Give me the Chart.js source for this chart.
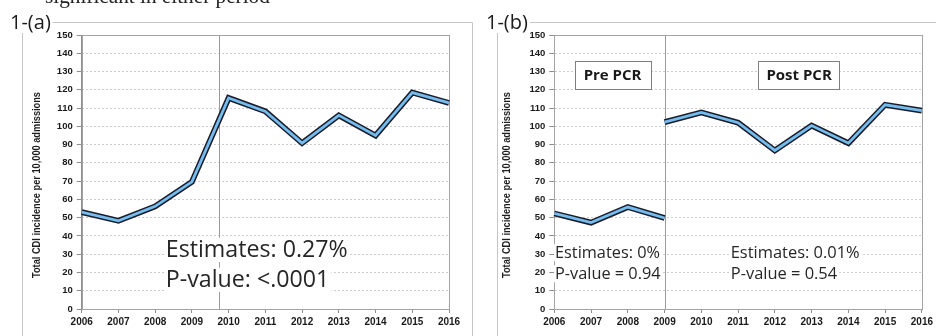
<!DOCTYPE html>
<html>
<head>
<meta charset="utf-8">
<script src="https://cdn.jsdelivr.net/npm/chart.js@4/dist/chart.umd.min.js"></script>
<style>
  html, body { margin: 0; padding: 0; background: #fff; }
  body { width: 936px; height: 336px; position: relative; overflow: hidden; }
  .panel { position: absolute; top: 0; height: 336px; }
</style>
</head>
<body>
<div class="panel" style="left:0;width:485px"><canvas id="chartA"></canvas></div>
<div class="panel" style="left:485px;width:451px"><canvas id="chartB"></canvas></div>
<script>
// Years on the x axis and the y tick values
const years = ['2006', '2007', '2008', '2009', '2010', '2011', '2012', '2013', '2014', '2015', '2016'];
const yTickValues = [0, 10, 20, 30, 40, 50, 60, 70, 80, 90, 100, 110, 120, 130, 140, 150];

// Total CDI incidence per 10,000 admissions
const incidenceA = [53.0, 48.3, 56.2, 69.6, 115.5, 108.2, 90.8, 106.0, 95.0, 118.5, 112.8];
const preIncidenceB = [52.3, 47.3, 55.8, 49.8, null, null, null, null, null, null, null];
const postIncidenceB = [null, null, null, 102.3, 107.6, 102.0, 86.8, 100.4, 90.8, 111.8, 108.6];

const yTitle = 'Total CDI incidence per 10,000 admissions';
const LINE_BLUE = '#74bdee';
const LINE_DARK = '#1b1c2a';
const AXIS_GREY = '#8e8e8e';
const FRAME_GREY = '#c6c6c6';
const TICK_FONT = 'Liberation Sans, Arial, sans-serif';
const NOTE_FONT = '"Open Sans", "Noto Sans", sans-serif';

// Each series is drawn as a dark wide stroke with a thinner blue stroke on top
function outlined(data) {
  const common = { data, pointRadius: 0, tension: 0, fill: false, spanGaps: false,
                   borderJoinStyle: 'miter', borderCapStyle: 'butt' };
  return [
    Object.assign({}, common, { borderColor: LINE_BLUE, borderWidth: 2.8, order: 0 }),
    Object.assign({}, common, { borderColor: LINE_DARK, borderWidth: 5.8, order: 1 })
  ];
}

function fitSize(ctx, text, weight, family, width) {
  ctx.font = `${weight} 20px ${family}`;
  return 20 * width / ctx.measureText(text).width;
}

// Extra drawing for a panel: frame, panel tag, plot box, divider, axis title, notes
function panelDecor(cfg) {
  return {
    id: 'panelDecor',
    beforeDatasetsDraw(chart) {
      const { ctx, chartArea: a, scales: { x } } = chart;
      ctx.save();
      // divider between periods
      const dx = Math.round(x.getPixelForValue(cfg.divider)) + 0.5;
      ctx.strokeStyle = '#9a9a9a';
      ctx.lineWidth = 1;
      ctx.beginPath();
      ctx.moveTo(dx, a.top);
      ctx.lineTo(dx, a.bottom);
      ctx.stroke();
      // plot area box
      ctx.strokeStyle = '#a3a3a3';
      ctx.strokeRect(Math.round(a.left) + 0.5, Math.round(a.top) + 0.5,
                     Math.round(a.right - a.left), Math.round(a.bottom - a.top));
      ctx.restore();
    },
    afterDraw(chart) {
      const { ctx, chartArea: a, scales: { x, y } } = chart;
      ctx.save();
      // outer frame of the panel
      ctx.strokeStyle = FRAME_GREY;
      ctx.lineWidth = 1;
      ctx.beginPath();
      ctx.moveTo(cfg.frame.left + 0.5, 340);
      ctx.lineTo(cfg.frame.left + 0.5, cfg.frame.top + 0.5);
      ctx.lineTo(cfg.frame.right + 0.5, cfg.frame.top + 0.5);
      if (cfg.frame.closeRight) ctx.lineTo(cfg.frame.right + 0.5, 340);
      ctx.stroke();

      // panel tag with a white backing over the frame corner
      ctx.font = `20px ${NOTE_FONT}`;
      const tw = ctx.measureText(cfg.tag).width;
      ctx.fillStyle = '#fff';
      ctx.fillRect(cfg.tagX - 2, 8, tw + 4, 25);
      ctx.fillStyle = '#1a1a1a';
      ctx.textBaseline = 'alphabetic';
      ctx.fillText(cfg.tag, cfg.tagX, 29);

      // running text of the page above the panels
      if (cfg.caption) {
        const s = fitSize(ctx, cfg.caption.text, 'normal', '"Liberation Serif", serif', cfg.caption.width);
        ctx.font = `${s}px "Liberation Serif", serif`;
        ctx.fillStyle = '#222';
        ctx.fillText(cfg.caption.text, cfg.caption.x, 3);
      }

      // y axis title, condensed to its printed length
      ctx.save();
      ctx.translate(cfg.titleX, (a.top + a.bottom) / 2 + 13);
      ctx.rotate(-Math.PI / 2);
      ctx.font = `bold 10px ${TICK_FONT}`;
      const w = ctx.measureText(yTitle).width;
      ctx.scale(186 / w, 1);
      ctx.fillStyle = '#1e1e1e';
      ctx.textAlign = 'center';
      ctx.textBaseline = 'middle';
      ctx.fillText(yTitle, 0, 0);
      ctx.restore();

      // statistics notes
      cfg.notes.forEach(n => {
        const size = fitSize(ctx, n.lines[0], 'normal', NOTE_FONT, n.width);
        ctx.font = `${size}px ${NOTE_FONT}`;
        const px = x.getPixelForValue(n.x);
        n.lines.forEach((t, i) => {
          const py = y.getPixelForValue(n.y[i]);
          const lw = ctx.measureText(t).width;
          ctx.fillStyle = '#fff';
          ctx.fillRect(px - 1, py - size * 0.85, lw + 3, size * 1.05);
          ctx.fillStyle = '#262626';
          ctx.textAlign = 'left';
          ctx.textBaseline = 'alphabetic';
          ctx.fillText(t, px, py);
        });
      });

      // boxed period labels
      (cfg.boxes || []).forEach(b => {
        ctx.font = `bold 15px ${NOTE_FONT}`;
        const bw = ctx.measureText(b.text).width + 2 * b.padX;
        const cx = x.getPixelForValue(b.x);
        const cy = y.getPixelForValue(b.y);
        const bx = Math.round(cx - bw / 2) + 0.5;
        const by = Math.round(cy - 14) + 0.5;
        ctx.fillStyle = '#fff';
        ctx.fillRect(bx, by, Math.round(bw), 28);
        ctx.strokeStyle = '#7f7f7f';
        ctx.strokeRect(bx, by, Math.round(bw), 28);
        ctx.fillStyle = '#1a1a1a';
        ctx.textAlign = 'center';
        ctx.textBaseline = 'middle';
        ctx.fillText(b.text, cx, cy + 1);
      });
      ctx.restore();
    }
  };
}

function makeChart(id, datasets, plotLeft, plotRightPad, cfg) {
  return new Chart(document.getElementById(id), {
    type: 'line',
    data: { labels: years, datasets },
    options: {
      responsive: true,
      maintainAspectRatio: false,
      animation: false,
      layout: { padding: { left: 0, top: 35, right: plotRightPad, bottom: 0 } },
      plugins: { legend: { display: false }, tooltip: { enabled: false } },
      scales: {
        x: {
          type: 'category',
          grid: { drawOnChartArea: false, drawTicks: true, tickLength: 4,
                  color: AXIS_GREY, tickColor: AXIS_GREY },
          border: { color: AXIS_GREY },
          ticks: { font: { family: TICK_FONT, weight: 'bold', size: 10 }, color: '#1a1a1a',
                   maxRotation: 0, minRotation: 0, autoSkip: false, padding: 3 },
          afterFit: s => { s.height = 27; }
        },
        y: {
          min: 0, max: 150,
          afterBuildTicks: s => { s.ticks = yTickValues.map(v => ({ value: v })); },
          grid: { color: '#cdcdcd', tickLength: 5, tickColor: AXIS_GREY, tickBorderDash: [] },
          border: { color: AXIS_GREY, dash: [2, 2] },
          ticks: { font: { family: TICK_FONT, weight: 'bold', size: 9.5 }, color: '#1a1a1a', padding: 4 },
          afterFit: s => { s.width = plotLeft; }
        }
      }
    },
    plugins: [panelDecor(cfg)]
  });
}

makeChart('chartA', outlined(incidenceA), 81.7, 36, {
  divider: 3.75,
  frame: { left: 22, top: 22, right: 472, closeRight: true },
  tag: '1-(a)', tagX: 10,
  caption: { text: 'significant in either period', x: 45, width: 225 },
  titleX: 37,
  notes: [
    { lines: ['Estimates: 0.27%', 'P-value: <.0001'], x: 2.29, y: [28.2, 11.8], width: 182 }
  ]
});

makeChart('chartB', outlined(preIncidenceB).concat(outlined(postIncidenceB)), 69.3, 13.3, {
  divider: 3,
  frame: { left: 12, top: 22, right: 460, closeRight: false },
  tag: '1-(b)', tagX: 1,
  titleX: 22,
  notes: [
    { lines: ['Estimates: 0%', 'P-value = 0.94'], x: 0.02, y: [27.9, 16.4], width: 105 },
    { lines: ['Estimates: 0.01%', 'P-value = 0.54'], x: 4.8, y: [27.9, 16.4], width: 129 }
  ],
  boxes: [
    { text: 'Pre PCR', x: 1.585, y: 128, padX: 9 },
    { text: 'Post PCR', x: 6.66, y: 128, padX: 8 }
  ]
});
</script>
</body>
</html>
